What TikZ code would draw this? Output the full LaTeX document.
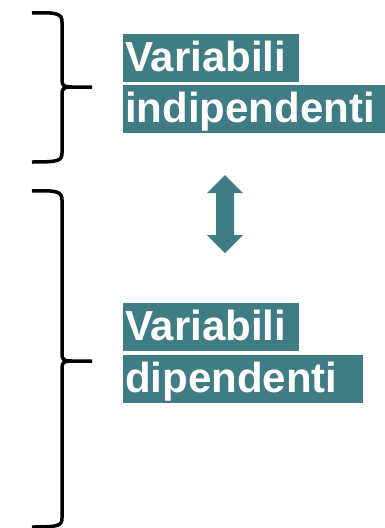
\documentclass[tikz,border=0pt]{standalone}
\usepackage{fontspec}
\setmainfont{Liberation Sans}
\usepackage{tikz}
\usetikzlibrary{calc}

\definecolor{boxteal}{RGB}{64,124,132}

\begin{document}
\begin{tikzpicture}[x=1pt,y=-1pt,
	varbox/.style={fill=boxteal,text=white,anchor=north west,inner xsep=2pt,inner ysep=0pt,
		text height=37pt,text depth=11pt,align=left,font=\fontsize{42}{48}\selectfont\bfseries},
	brace/.style={line width=3.5pt,line join=round}]
	\useasboundingbox (0,0) rectangle (385,528);
	
	% upper brace
	\draw[brace] (32,13) .. controls (58,12) and (62,14) .. (62,22) -- (62,80)
		.. controls (62,86) and (64,87) .. (72,87) -- (92,87);
	\draw[brace] (72,87) .. controls (64,87) and (62,88) .. (62,94) -- (62,153)
		.. controls (62,161) and (58,162) .. (32,162);
	
	% lower brace
	\draw[brace] (32,191) .. controls (58,190) and (62,192) .. (62,200) -- (62,354)
		.. controls (62,360) and (64,361) .. (72,361) -- (92,361);
	\draw[brace] (72,361) .. controls (64,361) and (62,362) .. (62,368) -- (62,518)
		.. controls (62,526) and (58,527) .. (32,527);
	
	% labels
	\node[varbox,text width=172pt] (indepA) at (123,34) {Variabili};
	\node[varbox,text width=258pt] (indepB) at (123,85) {indipendenti};
	\node[varbox,text width=172pt] (depA) at (123,303) {Variabili};
	\node[varbox,text width=236pt] (depB) at (123,355) {dipendenti};
	
	% double arrow
	\fill[boxteal] (225,175) -- (243,193) -- (234,193) -- (234,235) -- (243,235)
		-- (225,253) -- (207,235) -- (216,235) -- (216,193) -- (207,193) -- cycle;
\end{tikzpicture}
\end{document}
